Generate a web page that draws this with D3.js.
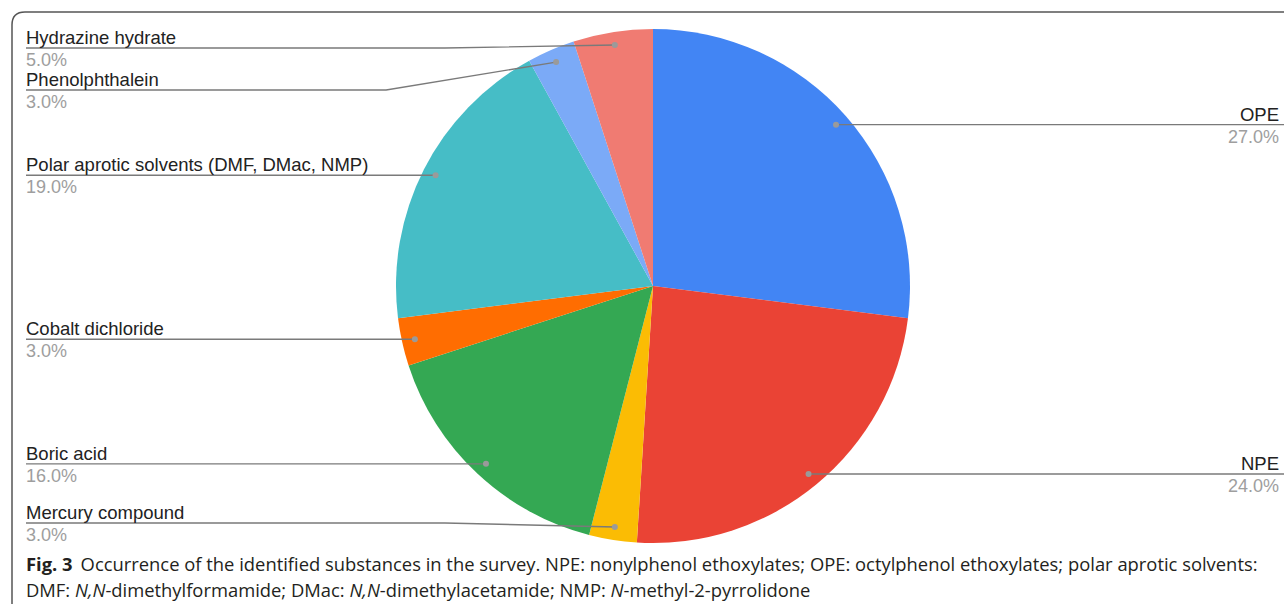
<!DOCTYPE html>
<html>
<head>
<meta charset="utf-8">
<script src="https://cdn.jsdelivr.net/npm/d3@7"></script>
<style>
  body { margin: 0; background: #fff; }
  svg { display: block; }
</style>
</head>
<body>
<svg id="chart" width="1284" height="609"></svg>
<script>
// slices, clockwise from 12 o'clock
let substances = ['OPE', 'NPE', 'Mercury compound', 'Boric acid', 'Cobalt dichloride',
  'Polar aprotic solvents (DMF, DMac, NMP)', 'Phenolphthalein', 'Hydrazine hydrate']
let shares = [27, 24, 3, 16, 3, 19, 3, 5]
let sliceColors = ['#4285f4', '#ea4335', '#fbbc04', '#34a853', '#ff6d01', '#46bdc6', '#7baaf7', '#f07b72']

let captionBold = 'Fig. 3'
let captionLine1 = 'Occurrence of the identified substances in the survey. NPE: nonylphenol ethoxylates; OPE: octylphenol ethoxylates; polar aprotic solvents:'
// [text, italic?]
let captionLine2 = [['DMF: ', false], ['N,N', true], ['-dimethylformamide; DMac: ', false], ['N,N', true],
  ['-dimethylacetamide; NMP: ', false], ['N', true], ['-methyl-2-pyrrolidone', false]]

const svg = d3.select('#chart')
const cx = 653, cy = 286, radius = 257

// frame
svg.append('path')
  .attr('d', 'M12,604 L12,25 Q12,12 25,12 L1284,12')
  .attr('fill', 'none')
  .attr('stroke', '#555')
  .attr('stroke-width', 1.5)

const data = substances.map((name, i) => ({ name: name, value: shares[i], color: sliceColors[i] }))

const pie = d3.pie().value(d => d.value).sort(null)
const arcs = pie(data)
const arc = d3.arc().innerRadius(0).outerRadius(radius)
const dotArc = d3.arc().innerRadius(244).outerRadius(244)

const g = svg.append('g').attr('transform', `translate(${cx},${cy})`)

g.selectAll('path.slice')
  .data(arcs)
  .enter()
  .append('path')
  .attr('class', 'slice')
  .attr('d', arc)
  .attr('fill', d => d.data.color)

// label layout: left / right column, pushed apart
const total = d3.sum(shares)
const pct = d3.format('.1f')
let labels = arcs.map(a => {
  const c = dotArc.centroid(a)
  return { name: a.data.name, value: a.data.value, dx: cx + c[0], dy: cy + c[1],
    right: (a.startAngle + a.endAngle) / 2 < Math.PI, y: cy + c[1] }
})

const minY = 48, maxY = 523, gap = 42
let left = labels.filter(d => !d.right).sort((a, b) => a.dy - b.dy)
let prev = minY - gap
left.forEach(d => {
  d.y = Math.max(d.dy, prev + gap)
  prev = d.y
})
left.forEach(d => { d.y = Math.min(d.y, maxY) })

const labelFont = 'Liberation Sans, Arial, sans-serif'
const lineG = svg.append('g')
labels.forEach(d => {
  let pts
  if (d.right) {
    pts = [[d.dx, d.dy], [1284, d.y]]
  } else if (Math.abs(d.y - d.dy) > 2) {
    pts = [[26, d.y], [d.dx - 170, d.y], [d.dx, d.dy]]
  } else {
    pts = [[26, d.y], [d.dx, d.dy]]
  }
  lineG.append('path')
    .attr('d', d3.line()(pts))
    .attr('fill', 'none')
    .attr('stroke', '#7a7a7a')
    .attr('stroke-width', 1.4)
  lineG.append('circle')
    .attr('cx', d.dx).attr('cy', d.dy).attr('r', 3)
    .attr('fill', '#9a9a9a')

  const x = d.right ? 1279 : 26
  const anchor = d.right ? 'end' : 'start'
  lineG.append('text')
    .attr('x', x).attr('y', d.y - 4)
    .attr('text-anchor', anchor)
    .attr('font-family', labelFont)
    .attr('font-size', 18.5)
    .attr('fill', '#222')
    .text(d.name)
  lineG.append('text')
    .attr('x', x).attr('y', d.y + 18)
    .attr('text-anchor', anchor)
    .attr('font-family', labelFont)
    .attr('font-size', 18)
    .attr('fill', '#9e9e9e')
    .text(pct(d.value / total * 100) + '%')
})

// caption
const capFont = 'Open Sans, Lato, sans-serif'
const cap1 = svg.append('text')
  .attr('x', 26).attr('y', 571)
  .attr('font-family', capFont)
  .attr('font-size', 18)
  .attr('fill', '#231f20')
cap1.append('tspan').attr('font-weight', 'bold').text(captionBold)
cap1.append('tspan').attr('dx', 8).text(captionLine1)

const cap2 = svg.append('text')
  .attr('x', 26).attr('y', 597)
  .attr('font-family', capFont)
  .attr('font-size', 18)
  .attr('fill', '#231f20')
captionLine2.forEach(p => {
  cap2.append('tspan').attr('font-style', p[1] ? 'italic' : 'normal').text(p[0])
})

// squeeze caption to the reference width
const w1 = cap1.node().getComputedTextLength()
const size = 18 * 1224 / w1
cap1.attr('font-size', size)
cap2.attr('font-size', size)
</script>
</body>
</html>
